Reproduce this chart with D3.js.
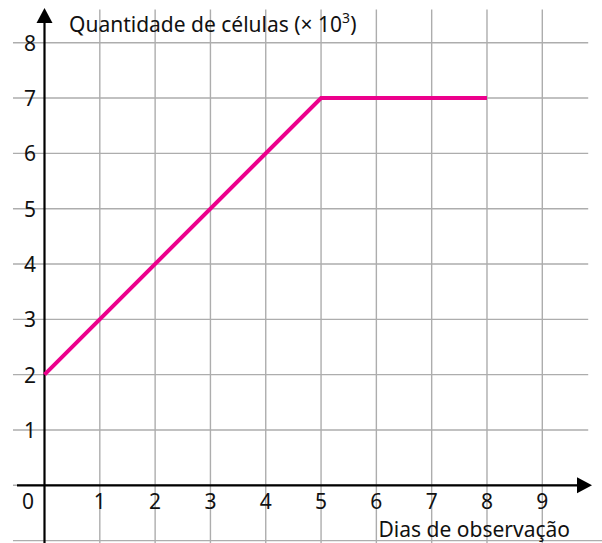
<!DOCTYPE html>
<html>
<head>
<meta charset="utf-8">
<script src="https://d3js.org/d3.v7.min.js"></script>
<style>
  body { margin: 0; background: #fff; }
  text { font-family: "Noto Sans", sans-serif; fill: #111; }
</style>
</head>
<body>
<script>
// data
var days = [0, 5, 8];
var cells = [2, 7, 7];
var xTicks = [0, 1, 2, 3, 4, 5, 6, 7, 8, 9];
var yTicks = [1, 2, 3, 4, 5, 6, 7, 8];
var xGrid = [1, 2, 3, 4, 5, 6, 7, 8, 9];
var yGrid = [-1, 0, 1, 2, 3, 4, 5, 6, 7, 8];

var width = 602, height = 543;
var svg = d3.select("body").append("svg").attr("width", width).attr("height", height);

var x = d3.scaleLinear().domain([0, 9]).range([44.5, 542.3]);
var y = d3.scaleLinear().domain([0, 8]).range([485.3, 42.7]);

// grid
svg.selectAll(".vgrid").data(xGrid).enter().append("line")
  .attr("x1", function(d) { return x(d); }).attr("x2", function(d) { return x(d); })
  .attr("y1", y(8.6)).attr("y2", height)
  .attr("stroke", "#adadad").attr("stroke-width", 1.4);
svg.selectAll(".hgrid").data(yGrid).enter().append("line")
  .attr("x1", x(-0.57)).attr("x2", function(d) { return d == -1 ? width : x(9.83); })
  .attr("y1", function(d) { return y(d); }).attr("y2", function(d) { return y(d); })
  .attr("stroke", "#adadad").attr("stroke-width", 1.4);

// axes
svg.append("line").attr("x1", x(0)).attr("x2", x(0)).attr("y1", height).attr("y2", 20)
  .attr("stroke", "#000").attr("stroke-width", 2.2);
svg.append("path")
  .attr("d", "M" + x(0) + ",8 L" + (x(0) + 8) + ",23 L" + (x(0) - 8) + ",23 Z")
  .attr("fill", "#000");
svg.append("line").attr("x1", 17).attr("x2", 580).attr("y1", y(0)).attr("y2", y(0))
  .attr("stroke", "#000").attr("stroke-width", 2.2);
svg.append("path")
  .attr("d", "M592," + y(0) + " L577," + (y(0) - 8) + " L577," + (y(0) + 8) + " Z")
  .attr("fill", "#000");

// tick labels
svg.selectAll(".xl").data(xTicks).enter().append("text")
  .attr("x", function(d) { return d == 0 ? 28 : x(d); })
  .attr("y", 509)
  .attr("text-anchor", "middle")
  .attr("font-size", "21px")
  .text(function(d) { return d; });
svg.selectAll(".yl").data(yTicks).enter().append("text")
  .attr("x", 36)
  .attr("y", function(d) { return y(d) + 8; })
  .attr("text-anchor", "end")
  .attr("font-size", "21px")
  .text(function(d) { return d; });

// titles
var t = svg.append("text").attr("x", 69).attr("y", 32).attr("font-size", "21px");
t.append("tspan").text("Quantidade de células (× 10");
t.append("tspan").attr("font-size", "14px").attr("dy", -9).text("3");
t.append("tspan").attr("dy", 9).text(")");

svg.append("text").attr("x", 570).attr("y", 537).attr("text-anchor", "end")
  .attr("font-size", "21px").text("Dias de observação");

// line
var line = d3.line().x(function(d, i) { return x(days[i]); }).y(function(d) { return y(d); });
svg.append("path").datum(cells)
  .attr("d", line)
  .attr("fill", "none")
  .attr("stroke", "#ec008c")
  .attr("stroke-width", 4)
  .attr("stroke-linejoin", "miter");
</script>
</body>
</html>
